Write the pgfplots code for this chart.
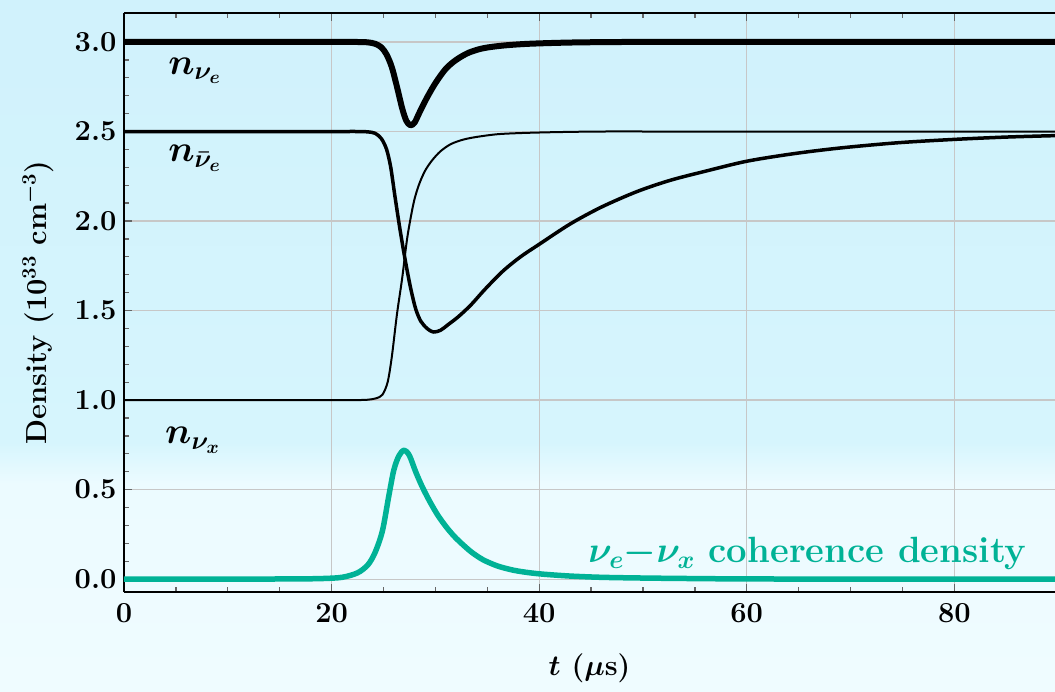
\RequirePackage{fix-cm}
\documentclass[border=0pt]{standalone}
\usepackage{pgfplots}
\pgfplotsset{compat=1.18}
\usetikzlibrary{backgrounds}
\definecolor{teal2}{RGB}{0,178,150}
\definecolor{bgtop}{RGB}{204,239,251}
\definecolor{bgmidA}{RGB}{214,245,253}
\definecolor{bgmidB}{RGB}{236,251,255}
\definecolor{bglow}{RGB}{244,253,255}
\pgfdeclareverticalshading{bgsh}{100bp}{color(0bp)=(bglow); color(40bp)=(bgmidB); color(43bp)=(bgmidA); color(100bp)=(bgtop)}
\begin{document}
\begin{tikzpicture}
\begin{axis}[
  scale only axis,
  width=931pt, height=579pt,
  xmin=0, xmax=89.7,
  ymin=-0.072, ymax=3.162,
  axis x line*=box, axis y line*=left,
  xtick={0,20,40,60,80},
  minor x tick num=3,
  ytick={0,0.5,1,1.5,2,2.5,3},
  minor y tick num=4,
  yticklabel style={/pgf/number format/fixed, /pgf/number format/fixed zerofill, /pgf/number format/precision=1, xshift=-4pt},
  xticklabel style={yshift=-8pt},
  /pgf/number format/assume math mode=true,
  tick label style={font=\fontsize{29}{31}\selectfont\bfseries},
  tick align=inside,
  major tick length=8pt, minor tick length=5pt,
  every tick/.style={black!60, line width=1.3pt},
  axis line style={line width=1.6pt, black},
  grid=major,
  major grid style={color=black!22, line width=1.2pt},
  xlabel={$t$ ($\mu$s)},
  ylabel={Density (10$^{33}$ cm$^{-3}$)},
  label style={font=\fontsize{29}{31}\selectfont\bfseries\boldmath},
  xlabel style={at={(axis description cs:0.5,-0.131)}, anchor=center},
  ylabel style={at={(axis description cs:-0.0924,0.5)}, anchor=center},
  clip=false,
]
\addplot[black, line width=6pt, smooth, tension=0.5, line join=round] coordinates {
(0,3)(10,3)(18,3)(21,3)(22.5,3)(23.5,2.998)(24.2,2.99)(24.8,2.97)(25.3,2.93)(25.8,2.86)(26.3,2.75)(26.8,2.63)(27.2,2.56)(27.6,2.535)(28.0,2.55)(28.5,2.61)(29.2,2.69)(30.0,2.77)(31.0,2.85)(32.0,2.90)(33.2,2.94)(34.6,2.965)(36.5,2.98)(39,2.99)(43,2.997)(48,3)(55,3)(65,3)(75,3)(89.7,3)};
\addplot[black, line width=3.5pt, smooth, tension=0.5, line join=round] coordinates {
(0,2.5)(10,2.5)(18,2.5)(21,2.5)(22.5,2.5)(23.5,2.498)(24.2,2.49)(24.8,2.46)(25.3,2.40)(25.7,2.30)(26.1,2.14)(26.6,1.95)(27.1,1.78)(27.6,1.63)(28.1,1.51)(28.6,1.44)(29.2,1.40)(29.8,1.38)(30.5,1.39)(31.2,1.42)(32.2,1.465)(33.4,1.53)(34.8,1.62)(36.5,1.72)(38.2,1.80)(40,1.87)(43,1.984)(46,2.078)(49.4,2.164)(52.6,2.227)(56,2.278)(60,2.334)(64.5,2.376)(69,2.408)(74.5,2.437)(80,2.456)(85,2.469)(89.7,2.477)};
\addplot[black, line width=2pt, smooth, tension=0.5, line join=round] coordinates {
(0,1)(10,1)(18,1)(21,1)(22.5,1)(23.5,1.002)(24.3,1.01)(24.9,1.03)(25.4,1.10)(25.8,1.24)(26.3,1.48)(26.8,1.68)(27.3,1.91)(27.9,2.10)(28.4,2.20)(29.0,2.28)(29.7,2.34)(30.5,2.39)(31.5,2.43)(32.7,2.455)(34,2.47)(36,2.485)(38.5,2.492)(42,2.497)(46,2.5)(52,2.5)(60,2.5)(70,2.5)(80,2.5)(89.7,2.5)};
\addplot[teal2, line width=5.5pt, smooth, tension=0.5, line join=round] coordinates {
(0,0)(10,0)(16,0.001)(19,0.003)(21,0.01)(22.5,0.035)(23.5,0.08)(24.2,0.15)(24.9,0.27)(25.5,0.46)(26.0,0.61)(26.5,0.69)(27.0,0.72)(27.5,0.69)(28.1,0.60)(28.7,0.52)(29.4,0.44)(30.2,0.36)(31.0,0.295)(31.8,0.24)(32.6,0.195)(33.5,0.15)(34.6,0.108)(36,0.073)(37.5,0.05)(39,0.036)(40.5,0.027)(43,0.017)(46,0.01)(50,0.006)(55,0.003)(60,0.001)(70,0)(80,0)(89.7,0)};
\node[font=\fontsize{37}{39}\selectfont\boldmath] at (axis cs:6.8,2.84) {$n_{\nu_e}$};
\node[font=\fontsize{37}{39}\selectfont\boldmath] at (axis cs:6.8,2.35) {$n_{\bar\nu_e}$};
\node[font=\fontsize{37}{39}\selectfont\boldmath] at (axis cs:6.6,0.775) {$n_{\nu_x}$};
\node[anchor=base east, text=teal2, font=\fontsize{36.5}{38}\selectfont\bfseries\boldmath] at (axis cs:87.3,0.09) {$\nu_e{-}\nu_x$ coherence density};
\end{axis}
\pgfresetboundingbox
\path[use as bounding box] ([shift={(-124pt,-99pt)}]current axis.south west) rectangle ([shift={(0pt,13pt)}]current axis.north east);
\begin{scope}[on background layer]
\shade[shading=bgsh] ([shift={(-124pt,-99pt)}]current axis.south west) rectangle ([shift={(0pt,13pt)}]current axis.north east);
\end{scope}
\end{tikzpicture}
\end{document}
